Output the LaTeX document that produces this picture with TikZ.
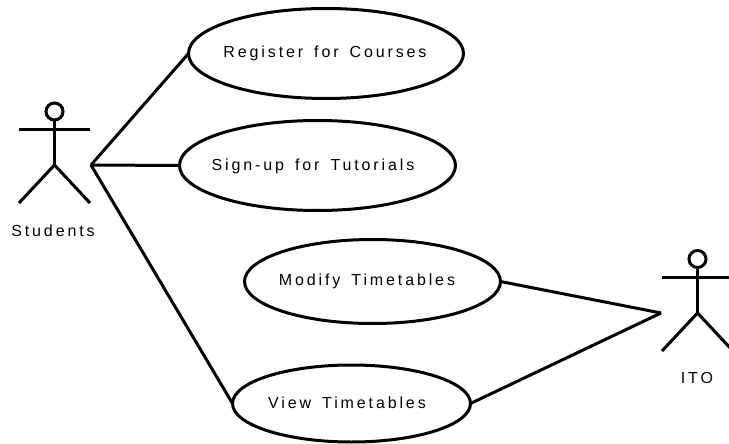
\documentclass[tikz,border=0pt]{standalone}
\usepackage{fontspec}
\setmainfont{Liberation Sans}
\newfontfamily\captionfont[LetterSpace=18,WordSpace=1.5]{Liberation Sans}
\usetikzlibrary{shapes.geometric}
\tikzset{
	caption/.style={font=\captionfont\fontsize{16}{18}\selectfont},
	usecase/.style={draw, black, line width=3pt, ellipse, inner sep=0pt, outer sep=0pt},
	link/.style={black, line width=3pt}
}
\begin{document}
\begin{tikzpicture}[x=1pt,y=-1pt]
	\useasboundingbox (0,0) rectangle (729,444);
	\draw [link] (54.5,111.5) circle [radius=8.5];
	\draw [link] (54.5,120) -- (54.5,165);
	\draw [link] (19,129) -- (90,129);
	\draw [link] (19,203) -- (54.5,165) -- (90,203);
	\coordinate (students) at (91,165);
	\node [caption] (studentslabel) at (53,231) {Students};
	\draw [link] (697.5,259) circle [radius=8.5];
	\draw [link] (697.5,267.5) -- (697.5,313);
	\draw [link] (662,277) -- (733,277);
	\draw [link] (662,351) -- (697.5,313) -- (733,351);
	\coordinate (ito) at (661,313);
	\node [caption] (itolabel) at (697,378) {ITO};
	\node [usecase, minimum width=275pt, minimum height=90pt] (register) at (326,53.5) {};
	\node [usecase, minimum width=276pt, minimum height=90pt] (signup) at (317.5,165.5) {};
	\node [usecase, minimum width=256pt, minimum height=84pt] (modify) at (372.5,281.5) {};
	\node [usecase, minimum width=238pt, minimum height=77pt] (view) at (351.5,403.5) {};
	\node [caption] (registerlabel) at (325,53) {Register for Courses};
	\node [caption] (signuplabel) at (313,166) {Sign-up for Tutorials};
	\node [caption] (modifylabel) at (367,281) {Modify Timetables};
	\node [caption] (viewlabel) at (347,403) {View Timetables};
	\draw [link] (students) -- (register.west);
	\draw [link] (students) -- (signup.west);
	\draw [link] (students) -- (view.west);
	\draw [link] (modify.east) -- (ito);
	\draw [link] (view.east) -- (ito);
\end{tikzpicture}
\end{document}
